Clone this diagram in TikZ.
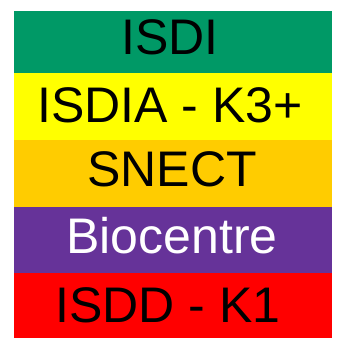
\documentclass[tikz,border=0pt]{standalone}
\usepackage{fontspec}
\setmainfont{Liberation Sans}
\definecolor{cgreen}{RGB}{0,153,102}
\definecolor{cyellow}{RGB}{255,255,0}
\definecolor{corange}{RGB}{255,204,0}
\definecolor{cpurple}{RGB}{102,51,153}
\definecolor{cred}{RGB}{255,0,0}
\begin{document}
\begin{tikzpicture}[x=1pt,y=1pt,
  lbl/.style={anchor=base,inner sep=0pt,font=\fontsize{50}{50}\selectfont}]
\useasboundingbox (0,0) rectangle (349,338);
\fill[white] (0,0) rectangle (349,338);
\fill[cgreen]  (14,265) rectangle (332,327.3);
\fill[cyellow] (14,198) rectangle (332,265);
\fill[corange] (14,131) rectangle (332,198);
\fill[cpurple] (14,65)  rectangle (332,131);
\fill[cred]    (14,0)   rectangle (332,65);
\node[lbl] (isdi) at (170,283) {ISDI};
\node[lbl] (isdia) at (170,215) {ISDIA - K3+};
\node[lbl] (snect) at (172,151) {SNECT};
\node[lbl,text=white] (bio) at (172,84) {Biocentre};
\node[lbl] (isdd) at (168,15) {ISDD - K1};
\end{tikzpicture}
\end{document}
